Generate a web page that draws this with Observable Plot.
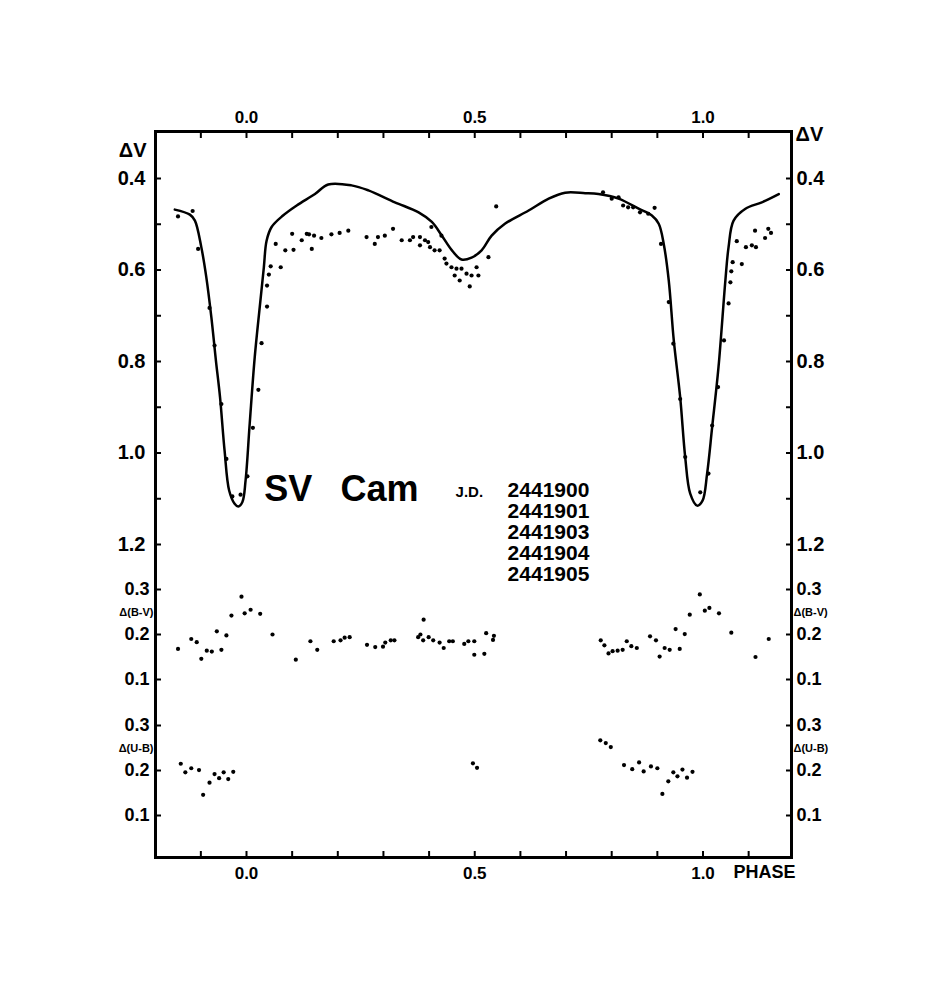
<!DOCTYPE html>
<html>
<head>
<meta charset="utf-8">
<script src="https://cdn.jsdelivr.net/npm/d3@7"></script>
<script src="https://cdn.jsdelivr.net/npm/@observablehq/plot@0.6"></script>
<style>
  body { margin: 0; background: #fff; }
  #chart { position: relative; width: 951px; height: 1006px; overflow: hidden; }
  #chart svg { position: absolute; left: 0; top: 0; }
</style>
</head>
<body>
<div id="chart"></div>
<script>
// ---- Light curve (ΔV): fitted curve ----
const curvePhase = [-0.157,-0.124,-0.113,-0.099,-0.088,-0.077,-0.067,-0.058,-0.048,-0.038,-0.026,-0.018,-0.009,-0.002,0.007,0.018,0.029,0.038,0.044,0.055,0.080,0.110,0.150,0.179,0.230,0.267,0.325,0.377,0.406,0.428,0.450,0.471,0.493,0.515,0.537,0.566,0.618,0.662,0.698,0.742,0.771,0.815,0.859,0.888,0.903,0.914,0.925,0.936,0.950,0.961,0.972,0.987,0.999,1.009,1.020,1.034,1.049,1.056,1.067,1.093,1.129,1.166];
const curveDV    = [0.468,0.479,0.492,0.550,0.616,0.703,0.798,0.878,0.995,1.082,1.111,1.117,1.107,1.060,0.936,0.791,0.681,0.594,0.536,0.506,0.481,0.459,0.434,0.413,0.415,0.426,0.452,0.474,0.495,0.525,0.557,0.577,0.573,0.557,0.525,0.499,0.470,0.444,0.431,0.432,0.434,0.444,0.466,0.481,0.499,0.543,0.623,0.754,0.878,1.009,1.089,1.115,1.104,1.045,0.944,0.812,0.623,0.550,0.492,0.466,0.452,0.434];

// ---- Light curve (ΔV): observations ----
const obsPhase = [-0.150,-0.118,-0.106,-0.081,-0.070,-0.055,-0.044,-0.031,-0.013,0.002,0.014,0.026,0.033,0.045,0.045,0.049,0.053,0.075,0.064,0.085,0.100,0.103,0.121,0.132,0.143,0.137,0.148,0.164,0.186,0.204,0.223,0.263,0.281,0.288,0.303,0.321,0.340,0.358,0.365,0.380,0.380,0.391,0.398,0.402,0.405,0.412,0.423,0.427,0.434,0.438,0.449,0.460,0.471,0.456,0.467,0.482,0.493,0.489,0.504,0.508,0.530,0.547,0.781,0.800,0.815,0.825,0.836,0.847,0.862,0.880,0.894,0.908,0.925,0.935,0.950,0.961,0.994,1.012,1.020,1.033,1.046,1.056,1.060,1.062,1.065,1.085,1.074,1.094,1.107,1.116,1.114,1.136,1.143,1.149];
const obsDV    = [0.483,0.471,0.554,0.683,0.765,0.893,1.013,1.095,1.091,1.051,0.945,0.862,0.760,0.680,0.634,0.610,0.592,0.594,0.543,0.557,0.521,0.556,0.535,0.521,0.554,0.522,0.525,0.530,0.522,0.519,0.514,0.528,0.543,0.528,0.525,0.510,0.535,0.535,0.528,0.528,0.546,0.535,0.539,0.550,0.506,0.557,0.557,0.525,0.575,0.586,0.594,0.597,0.597,0.612,0.623,0.608,0.612,0.636,0.594,0.612,0.572,0.461,0.430,0.444,0.441,0.459,0.463,0.463,0.474,0.477,0.464,0.543,0.670,0.761,0.882,1.009,1.086,1.045,0.940,0.856,0.754,0.673,0.627,0.603,0.583,0.587,0.537,0.550,0.546,0.550,0.514,0.530,0.510,0.519];

// ---- Colour index Δ(B-V) ----
const bvPhase = [-0.150,-0.121,-0.109,-0.099,-0.087,-0.076,-0.065,-0.055,-0.044,-0.033,-0.011,-0.004,0.009,0.030,0.057,0.108,0.140,0.155,0.191,0.206,0.215,0.226,0.264,0.282,0.299,0.304,0.316,0.324,0.376,0.381,0.388,0.387,0.399,0.409,0.423,0.432,0.444,0.452,0.477,0.486,0.499,0.499,0.521,0.525,0.542,0.540,0.776,0.784,0.793,0.802,0.813,0.824,0.833,0.843,0.855,0.884,0.897,0.905,0.916,0.927,0.940,0.949,0.960,0.971,0.993,1.004,1.014,1.035,1.062,1.115,1.144];
const bvValue = [0.168,0.190,0.183,0.146,0.164,0.162,0.207,0.166,0.198,0.242,0.284,0.247,0.255,0.246,0.200,0.144,0.185,0.166,0.185,0.187,0.193,0.194,0.177,0.172,0.173,0.182,0.187,0.187,0.194,0.200,0.233,0.187,0.194,0.187,0.182,0.170,0.185,0.185,0.179,0.185,0.185,0.155,0.157,0.203,0.197,0.188,0.187,0.176,0.158,0.163,0.164,0.166,0.185,0.174,0.170,0.196,0.187,0.151,0.170,0.166,0.212,0.168,0.201,0.244,0.289,0.253,0.259,0.247,0.204,0.150,0.190];

// ---- Colour index Δ(U-B) ----
const ubPhase = [-0.144,-0.134,-0.121,-0.104,-0.095,-0.081,-0.070,-0.060,-0.050,-0.040,-0.029,0.496,0.505,0.775,0.787,0.798,0.827,0.845,0.860,0.870,0.886,0.900,0.911,0.924,0.935,0.944,0.955,0.965,0.977];
const ubValue = [0.215,0.196,0.205,0.201,0.146,0.173,0.192,0.183,0.196,0.181,0.197,0.216,0.206,0.267,0.261,0.252,0.212,0.203,0.218,0.198,0.209,0.205,0.148,0.176,0.196,0.187,0.202,0.184,0.197];

// ---- Ticks and labels ----
const phaseTicks  = [-0.1,0,0.1,0.2,0.3,0.4,0.5,0.6,0.7,0.8,0.9,1.0,1.1];
const phaseLabels = [0, 0.5, 1.0];
const dvTicks     = [0.4,0.5,0.6,0.7,0.8,0.9,1.0,1.1,1.2];
const dvLabels    = [0.4,0.6,0.8,1.0,1.2];
const colorTicks  = [0.1,0.2,0.3];
const jdDates     = ["2441900","2441901","2441903","2441904","2441905"];
const starName    = ["SV", "Cam"];

// ---- Layout ----
const W = 951, H = 1006;
const fmt = d3.format(".1f");
const base = {
  width: W, height: H,
  marginTop: 131, marginBottom: 149, marginLeft: 155, marginRight: 160,
  style: {background: "transparent", fontFamily: "'Liberation Sans', Arial, sans-serif", fontWeight: "bold", color: "#000", overflow: "visible"},
  x: {domain: [0, 1], range: [246, 702.5], axis: null}
};

const obs = obsPhase.map((p, i) => ({phase: p, dv: obsDV[i]}));
const curve = curvePhase.map((p, i) => ({phase: p, dv: curveDV[i]}));
const bv = bvPhase.map((p, i) => ({phase: p, v: bvValue[i]}));
const ub = ubPhase.map((p, i) => ({phase: p, v: ubValue[i]}));

const sideAxes = (ticks, labels, fontSize, padL, padR) => [
  Plot.axisY(ticks, {anchor: "left", tickSize: -6, strokeWidth: 2, tickFormat: () => "", label: null}),
  Plot.axisY(ticks, {anchor: "right", tickSize: -6, strokeWidth: 2, tickFormat: () => "", label: null}),
  Plot.axisY(labels, {anchor: "left", tickSize: 0, tickPadding: padL, tickFormat: fmt, fontSize, label: null}),
  Plot.axisY(labels, {anchor: "right", tickSize: 0, tickPadding: padR, tickFormat: fmt, fontSize, label: null})
];

const main = Plot.plot({
  ...base,
  y: {domain: [0.4, 1.2], range: [178, 544], axis: null},
  marks: [
    Plot.frame({strokeWidth: 3}),
    Plot.axisX(phaseTicks, {anchor: "bottom", tickSize: -6, strokeWidth: 2, tickFormat: () => "", label: null}),
    Plot.axisX(phaseTicks, {anchor: "top", tickSize: -6, strokeWidth: 2, tickFormat: () => "", label: null}),
    Plot.axisX(phaseLabels, {anchor: "bottom", tickSize: 0, tickPadding: 9, tickFormat: fmt, fontSize: 17, label: null}),
    Plot.axisX(phaseLabels, {anchor: "top", tickSize: 0, tickPadding: 9, tickFormat: fmt, fontSize: 17, label: null}),
    ...sideAxes(dvTicks, dvLabels, 20, 10, 5),
    Plot.text(["ΔV"], {frameAnchor: "left", y: 0.34, dx: -9, textAnchor: "end", fontSize: 20}),
    Plot.text(["ΔV"], {frameAnchor: "right", y: 0.305, dx: 4, textAnchor: "start", fontSize: 20}),
    Plot.text(["PHASE"], {frameAnchor: "bottom-right", dx: 4, dy: 20, textAnchor: "end", lineAnchor: "bottom", fontSize: 18}),
    Plot.line(curve, {x: "phase", y: "dv", curve: "catmull-rom", strokeWidth: 2.5, stroke: "black"}),
    Plot.dot(obs, {x: "phase", y: "dv", r: 2.1, fill: "black", stroke: null}),
    Plot.text([starName[0]], {x: 0.039, y: 1.104, textAnchor: "start", lineAnchor: "bottom", fontSize: 36}),
    Plot.text([starName[1]], {x: 0.206, y: 1.104, textAnchor: "start", lineAnchor: "bottom", fontSize: 36}),
    Plot.text(["J.D."], {x: 0.458, y: 1.097, textAnchor: "start", lineAnchor: "bottom", fontSize: 15}),
    Plot.text([jdDates.join("\n")], {x: 0.572, y: 1.0645, textAnchor: "start", lineAnchor: "top", lineHeight: 1, fontSize: 21})
  ]
});

const colourPlot = (data, range, name) => Plot.plot({
  ...base,
  y: {domain: [0.1, 0.3], range, axis: null},
  marks: [
    ...sideAxes(colorTicks, colorTicks, 18, 6, 5),
    Plot.text([name], {frameAnchor: "left", y: 0.25, dx: -2, textAnchor: "end", fontSize: 11}),
    Plot.text([name], {frameAnchor: "right", y: 0.25, dx: 2, textAnchor: "start", fontSize: 11}),
    Plot.dot(data, {x: "phase", y: "v", r: 2.1, fill: "black", stroke: null})
  ]
});

const el = document.getElementById("chart");
el.append(main);
el.append(colourPlot(bv, [679, 589], "Δ(B-V)"));
el.append(colourPlot(ub, [815, 725], "Δ(U-B)"));
</script>
</body>
</html>
